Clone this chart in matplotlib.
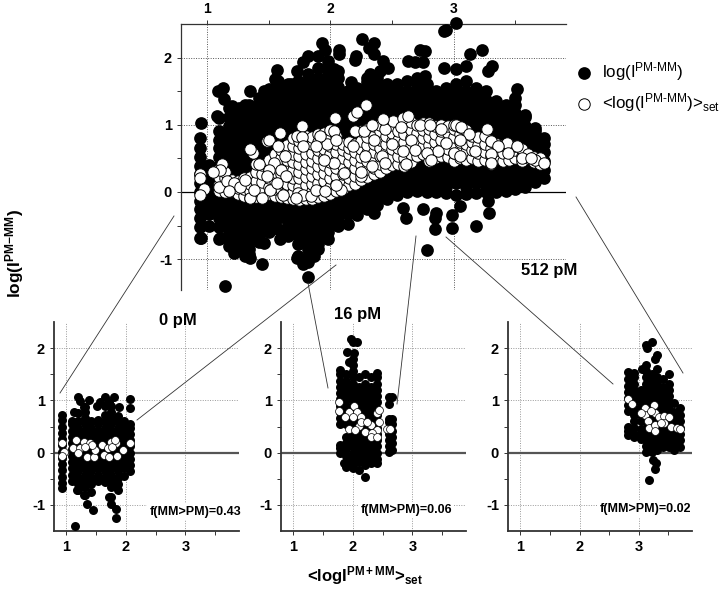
import matplotlib
matplotlib.use("Agg")
import matplotlib.pyplot as plt
from matplotlib.lines import Line2D

plt.rcParams['font.family'] = ['Liberation Sans', 'DejaVu Sans']
plt.rcParams['mathtext.fontset'] = 'custom'
plt.rcParams['mathtext.rm'] = 'Liberation Sans'
plt.rcParams['mathtext.bf'] = 'Liberation Sans:bold'
plt.rcParams['mathtext.it'] = 'Liberation Sans:italic'
plt.rcParams['mathtext.default'] = 'regular'

W, H = 720, 591

# ---- main panel: dense cloud
main_cols_x = [0.94, 1.02, 1.10, 1.18, 1.26, 1.34, 1.42, 1.50, 1.58, 1.66, 1.74, 1.82,
               1.90, 1.98, 2.06, 2.14, 2.22, 2.30, 2.38, 2.46, 2.54, 2.62, 2.70, 2.78,
               2.86, 2.94, 3.02, 3.10, 3.18, 3.26, 3.34, 3.42, 3.50, 3.58, 3.66, 3.73]
main_cols_y = [
 [-0.68,-0.52,-0.39,-0.26,-0.13,0,0.13,0.26,0.39,0.52,0.65,0.80],
 [-0.50,-0.33,-0.20,-0.07,0.07,0.20,0.33,0.40],
 [-0.70,-0.52,-0.39,-0.26,-0.13,0,0.13,0.26,0.39,0.52,0.65,0.78,0.91,1.10],
 [-0.80,-0.72,-0.59,-0.46,-0.33,-0.20,-0.07,0.07,0.20,0.33,0.46,0.59,0.72,0.85,0.98,1.11,1.25],
 [-0.85,-0.78,-0.65,-0.52,-0.39,-0.26,-0.13,0,0.13,0.26,0.39,0.52,0.65,0.78,0.91,1.04,1.17,1.25],
 [-0.92,-0.85,-0.72,-0.59,-0.46,-0.33,-0.20,-0.07,0.07,0.20,0.33,0.46,0.59,0.72,0.85,0.98,1.11,1.24,1.30],
 [-0.75,-0.65,-0.52,-0.39,-0.26,-0.13,0,0.13,0.26,0.39,0.52,0.65,0.78,0.91,1.04,1.17,1.30,1.40],
 [-0.60,-0.46,-0.33,-0.20,-0.07,0.07,0.20,0.33,0.46,0.59,0.72,0.85,0.98,1.11,1.24,1.37,1.50],
 [-0.55,-0.39,-0.26,-0.13,0,0.13,0.26,0.39,0.52,0.65,0.78,0.91,1.04,1.17,1.30,1.43,1.56,1.65],
 [-0.65,-0.59,-0.46,-0.33,-0.20,-0.07,0.07,0.20,0.33,0.46,0.59,0.72,0.85,0.98,1.11,1.24,1.37,1.50,1.60],
 [-0.95,-0.78,-0.65,-0.52,-0.39,-0.26,-0.13,0,0.13,0.26,0.39,0.52,0.65,0.78,0.91,1.04,1.17,1.30,1.43,1.56,1.65],
 [-1.05,-0.98,-0.85,-0.72,-0.59,-0.46,-0.33,-0.20,-0.07,0.07,0.20,0.33,0.46,0.59,0.72,0.85,0.98,1.11,1.24,1.37,1.50,1.63,1.75],
 [-0.85,-0.78,-0.65,-0.52,-0.39,-0.26,-0.13,0,0.13,0.26,0.39,0.52,0.65,0.78,0.91,1.04,1.17,1.30,1.43,1.56,1.69,1.85],
 [-0.70,-0.59,-0.46,-0.33,-0.20,-0.07,0.07,0.20,0.33,0.46,0.59,0.72,0.85,0.98,1.11,1.24,1.37,1.50,1.63,1.76,1.89,1.95],
 [-0.50,-0.39,-0.26,-0.13,0,0.13,0.26,0.39,0.52,0.65,0.78,0.91,1.04,1.17,1.30,1.43,1.56,1.69,1.80],
 [-0.48,-0.33,-0.20,-0.07,0.07,0.20,0.33,0.46,0.59,0.72,0.85,0.98,1.11,1.24,1.37,1.50],
 [-0.35,-0.26,-0.13,0,0.13,0.26,0.39,0.52,0.65,0.78,0.91,1.04,1.17,1.30,1.43,1.55],
 [-0.25,-0.20,-0.07,0.07,0.20,0.33,0.46,0.59,0.72,0.85,0.98,1.11,1.24,1.37,1.50,1.63,1.70],
 [-0.20,-0.13,0,0.13,0.26,0.39,0.52,0.65,0.78,0.91,1.04,1.17,1.30,1.43,1.56,1.70],
 [-0.10,-0.07,0.07,0.20,0.33,0.46,0.59,0.72,0.85,0.98,1.11,1.24,1.37,1.50,1.60],
 [-0.05,0,0.13,0.26,0.39,0.52,0.65,0.78,0.91,1.04,1.17,1.30,1.43,1.56,1.60],
 [0,0.07,0.20,0.33,0.46,0.59,0.72,0.85,0.98,1.11,1.24,1.37,1.50,1.65],
 [0.02,0.13,0.26,0.39,0.52,0.65,0.78,0.91,1.04,1.17,1.30,1.43,1.56,1.70],
 [0,0.07,0.20,0.33,0.46,0.59,0.72,0.85,0.98,1.11,1.24,1.37,1.50,1.60],
 [0,0.13,0.26,0.39,0.52,0.65,0.78,0.91,1.04,1.17,1.30,1.43,1.50],
 [-0.02,0.07,0.20,0.33,0.46,0.59,0.72,0.85,0.98,1.11,1.24,1.37,1.50,1.55],
 [-0.05,0.13,0.26,0.39,0.52,0.65,0.78,0.91,1.04,1.17,1.30,1.43,1.56,1.60],
 [-0.03,0.07,0.20,0.33,0.46,0.59,0.72,0.85,0.98,1.11,1.24,1.37,1.50,1.65],
 [-0.02,0.13,0.26,0.39,0.52,0.65,0.78,0.91,1.04,1.17,1.30,1.43,1.55],
 [0,0.07,0.20,0.33,0.46,0.59,0.72,0.85,0.98,1.11,1.24,1.37,1.50],
 [0,0.13,0.26,0.39,0.52,0.65,0.78,0.91,1.04,1.17,1.30,1.35],
 [0.02,0.07,0.20,0.33,0.46,0.59,0.72,0.85,0.98,1.11,1.24,1.30],
 [0.05,0.13,0.26,0.39,0.52,0.65,0.78,0.91,1.04,1.17,1.30,1.40],
 [0.08,0.20,0.33,0.46,0.59,0.72,0.85,0.98,1.11,1.15],
 [0.15,0.26,0.39,0.52,0.65,0.78,0.91,0.95],
 [0.20,0.33,0.46,0.59,0.72,0.80],
]
main_out_x = [0.95,1.09,1.13,1.14,1.20,1.08,1.35,1.31,1.46,1.50,1.57,1.55,1.68,1.73,1.78,1.82,
              1.90,1.93,1.96,2.07,2.07,2.03,2.20,2.21,2.17,2.26,2.31,2.35,2.35,2.43,2.47,2.40,2.32,
              2.63,2.69,2.73,2.77,2.75,2.77,2.92,2.94,3.02,2.92,3.02,3.13,3.10,3.23,3.31,3.28,3.51,
              0.95,1.11,1.22,1.31,1.35,1.46,1.45,1.59,1.73,1.78,1.87,1.82,1.15,
              2.35,2.59,2.61,2.75,2.86,2.85,2.85,2.99,2.99,3.05,3.18,3.28,3.29,2.78]
main_out_y = [1.02,1.50,1.55,1.38,1.28,1.13,1.50,1.30,1.50,1.53,1.82,1.68,1.60,1.80,1.93,2.03,
              2.03,2.22,2.12,2.12,2.05,1.83,1.97,2.03,1.63,2.28,2.15,2.22,2.05,1.95,1.85,1.80,1.75,
              1.95,1.93,2.12,2.10,1.93,1.73,2.40,2.41,2.51,1.85,1.83,2.05,1.88,2.12,1.88,1.80,1.53,
              -0.69,-0.69,-0.91,-0.96,-0.98,-0.76,-1.08,-0.70,-0.98,-1.08,-0.96,-1.27,-1.40,
              -0.31,-0.24,-0.39,-0.26,-0.31,-0.39,-0.55,-0.53,-0.35,-0.21,-0.51,-0.14,-0.31,-0.86]

# white band: body of the band, column by column
band_cols_x = [1.10,1.15,1.20,1.25,1.30,1.35,1.40,1.45,1.50,1.55,1.60,1.65,1.70,1.75,1.80,1.85,1.90,1.95,
               2.00,2.05,2.10,2.15,2.20,2.25,2.30,2.35,2.40,2.45,2.50,2.55,2.60,2.65,2.70,2.75,2.80,2.85,
               2.90,2.95,3.00,3.05,3.10,3.15,3.20,3.25,3.30,3.35,3.40,3.45,3.50,3.55,3.60,3.65,3.70]
band_cols_y = [
 [0.02,0.12,0.22,0.34],[0.00,0.09,0.20,0.30],[0.01,0.10,0.18],[-0.03,0.06,0.16],[-0.06,0.04,0.14,0.20],
 [-0.09,0.02,0.12,0.22],[-0.07,0.04,0.16,0.30,0.42],[-0.08,0.05,0.15,0.27,0.40],[-0.03,0.08,0.20,0.33,0.48],
 [-0.06,0.05,0.17,0.30,0.44,0.56],[-0.07,0.04,0.14,0.26,0.38,0.50,0.62],[-0.09,0.02,0.12,0.24,0.36,0.48,0.60,0.70],
 [-0.10,0.00,0.10,0.20,0.32,0.44,0.56,0.68,0.80],[-0.12,-0.02,0.08,0.20,0.30,0.42,0.54,0.66,0.76],
 [-0.11,0.00,0.10,0.22,0.34,0.44,0.56,0.70,0.84],[-0.10,0.01,0.12,0.24,0.36,0.46,0.58,0.72,0.82],
 [-0.08,0.03,0.14,0.26,0.38,0.50,0.62,0.74,0.86],[-0.06,0.04,0.16,0.28,0.40,0.52,0.64,0.76,0.88],
 [-0.03,0.08,0.20,0.32,0.44,0.56,0.68,0.80,0.92],[0.02,0.12,0.24,0.36,0.48,0.60,0.72,0.84],
 [0.04,0.14,0.26,0.38,0.50,0.62,0.72],[0.10,0.20,0.32,0.44,0.56,0.66,0.74],[0.12,0.24,0.36,0.48,0.60,0.72],
 [0.18,0.28,0.40,0.52,0.64,0.76,0.90],[0.22,0.34,0.46,0.58,0.70,0.82,0.94],[0.26,0.36,0.48,0.60,0.72,0.84,0.98],
 [0.30,0.42,0.54,0.66,0.78,0.90,1.00],[0.36,0.48,0.60,0.72,0.84,0.96,1.04],[0.40,0.52,0.64,0.76,0.88,1.00],
 [0.42,0.54,0.66,0.78,0.90,1.04],[0.38,0.50,0.62,0.74,0.86,0.98,1.08],[0.44,0.56,0.68,0.80,0.92,1.04],
 [0.54,0.64,0.76,0.88,1.00],[0.56,0.68,0.80,0.92,1.02],[0.46,0.58,0.70,0.82,0.94,1.02],
 [0.50,0.62,0.74,0.86,0.98],[0.54,0.66,0.78,0.90,1.00],[0.52,0.64,0.76,0.88,0.98],[0.46,0.58,0.70,0.82,0.94,1.00],
 [0.50,0.62,0.74,0.86,0.96],[0.48,0.60,0.72,0.84,0.92],[0.50,0.62,0.74,0.84],[0.46,0.58,0.70,0.82],
 [0.48,0.60,0.72,0.84],[0.42,0.54,0.66,0.76],[0.50,0.62,0.72],[0.46,0.58,0.70],[0.48,0.60,0.72],
 [0.50,0.62,0.68],[0.46,0.54,0.64],[0.50,0.56],[0.44,0.52],[0.42,0.50],
]
main_set_x = [0.94,0.94,0.98,0.94,1.12,1.11,1.05,1.10,1.16,1.22,1.18,1.27,1.35,1.31,1.38,1.45,1.42,1.37,1.35,
              1.49,1.50,1.59,1.77,1.73,1.77,1.78,1.58,1.63,1.54,1.50,1.49,1.60,1.64,1.62,1.51,1.57,1.74,1.78,
              1.72,1.84,1.88,1.96,2.09,2.05,2.11,2.03,1.95,1.97,2.04,2.03,2.05,1.92,1.88,2.18,2.22,2.29,2.20,
              2.27,2.34,2.25,2.44,2.51,2.59,2.63,2.57,2.43,2.35,2.18,2.28,2.42,2.34,2.25,2.44,2.59,2.61,2.50,
              2.65,2.73,2.81,2.90,3.02,3.06,3.12,3.27,3.30,3.43,3.51,3.36,3.17,3.30,3.44,3.55,3.66,3.63,3.73,
              3.30,3.00,2.87,2.78,2.82,3.05,2.69,3.05,2.94]
main_set_y = [0.26,0.21,0.04,-0.05,0.42,0.33,0.29,0.08,0.16,0.13,0.02,0.08,-0.09,0.18,0.03,-0.09,0.41,0.58,0.64,
              0.76,0.78,0.88,0.98,0.84,0.82,0.68,0.68,0.53,0.43,0.33,0.23,0.33,0.23,-0.04,0.03,0.13,-0.01,-0.04,
              -0.09,-0.06,0.03,0.01,0.03,0.11,0.28,0.43,0.48,0.71,1.10,0.91,0.78,0.83,0.68,1.13,1.19,1.30,0.91,
              0.91,1.00,0.23,0.93,1.05,1.10,1.13,0.96,1.08,0.78,0.68,0.53,0.53,0.38,0.30,0.43,0.61,0.41,0.71,
              0.78,1.00,1.00,0.93,1.00,0.96,0.86,0.93,0.76,0.73,0.68,0.68,0.61,0.56,0.58,0.50,0.48,0.50,0.43,
              0.43,0.58,0.61,0.58,0.48,0.53,0.63,0.78,0.73]

# ---- 0 pM panel
p0_cols_x = [0.93, 1.09, 1.20, 1.31, 1.42, 1.53, 1.64, 1.75, 1.86, 1.97, 2.07]
p0_cols_y = [
 [-0.68,-0.58,-0.46,-0.34,-0.22,-0.10,0.02,0.14,0.26,0.38,0.50,0.62,0.72],
 [-0.55,-0.42,-0.30,-0.18,-0.06,0.06,0.18,0.30,0.42,0.54,0.60],
 [-0.71,-0.60,-0.48,-0.36,-0.24,-0.12,0,0.12,0.24,0.36,0.48,0.60,0.75],
 [-0.81,-0.66,-0.54,-0.42,-0.30,-0.18,-0.06,0.06,0.18,0.30,0.42,0.54,0.66,0.78,0.88],
 [-0.76,-0.60,-0.48,-0.36,-0.24,-0.12,0,0.12,0.24,0.36,0.48,0.60],
 [-0.55,-0.42,-0.30,-0.18,-0.06,0.06,0.18,0.30,0.42,0.54,0.62],
 [-0.56,-0.48,-0.36,-0.24,-0.12,0,0.12,0.24,0.36,0.48,0.60,0.72,0.90],
 [-0.84,-0.66,-0.54,-0.42,-0.30,-0.18,-0.06,0.06,0.18,0.30,0.42,0.54,0.66,0.78,0.90],
 [-0.71,-0.60,-0.48,-0.36,-0.24,-0.12,0,0.12,0.24,0.36,0.48,0.60,0.70],
 [-0.45,-0.30,-0.18,-0.06,0.06,0.18,0.30,0.42,0.54,0.60],
 [-0.35,-0.24,-0.12,0,0.12,0.24,0.36,0.48,0.55],
]
p0_out_x = [1.19,1.23,1.37,1.29,1.51,1.57,1.65,1.80,1.71,2.06,2.07,1.12,1.89,1.15,1.35,1.45,1.83,1.83,1.75,1.71,1.29,1.17]
p0_out_y = [1.07,0.98,1.00,0.88,0.89,0.97,1.06,1.07,0.97,1.02,0.85,0.78,0.87,-1.41,-0.99,-1.10,-1.25,-1.08,-0.98,-0.84,-0.81,-0.71]
p0_set_x = [0.93,0.95,0.93,1.11,1.16,1.23,1.29,1.35,1.46,1.40,1.48,1.43,1.60,1.63,1.71,1.70,1.74,1.84,1.85,1.95,2.07,1.20,1.31,1.76,1.82]
p0_set_y = [0.18,0.02,-0.06,0.08,0.24,0.08,0.21,-0.08,-0.09,0.18,0.05,0.15,0.15,-0.04,-0.08,0.08,0.21,0.19,-0.06,0.05,0.19,-0.01,0.11,0.11,0.24]

# ---- 16 pM panel
p16_cols_x = [1.78, 1.89, 2.00, 2.10, 2.20, 2.30, 2.41, 2.60, 2.65]
p16_cols_y = [
 [-0.01,0.08,0.15,0.55,0.66,0.78,0.90,1.02,1.14,1.26,1.38,1.50,1.58],
 [-0.27,-0.18,-0.06,0.06,0.18,0.30,0.54,0.66,0.78,0.90,1.02,1.14,1.26,1.38,1.50],
 [-0.30,-0.24,-0.12,0,0.12,0.24,0.36,0.48,0.60,0.72,0.84,0.96,1.08,1.20,1.32,1.44,1.56,1.68,1.80],
 [-0.33,-0.18,-0.06,0.06,0.18,0.30,0.42,0.54,0.66,0.78,0.90,1.02,1.14,1.26,1.45],
 [-0.46,-0.24,-0.12,0,0.12,0.24,0.36,0.48,0.60,0.72,0.84,0.96,1.08,1.20,1.32,1.50],
 [-0.20,-0.18,-0.06,0.06,0.18,0.30,0.42,0.54,0.66,0.78,0.90,1.02,1.14,1.26,1.45],
 [-0.19,-0.12,0,0.12,0.24,0.36,0.48,0.60,0.72,0.84,0.96,1.08,1.20,1.32,1.44,1.52],
 [0.02,0.12,0.24,0.36,0.48,0.58,0.65,0.94,1.07],
 [0.05,0.18,0.30,0.42,0.54,0.65,1.07],
]
p16_out_x = [1.96,2.06,1.90,1.94,2.02,1.85,2.00]
p16_out_y = [2.17,2.12,1.93,1.74,1.90,-0.20,2.12]
p16_set_x = [1.77,1.77,1.93,2.02,2.06,2.00,2.13,2.10,1.94,2.21,2.30,2.41,2.44,2.40,2.44,2.32,2.58,2.63,2.03,2.13,2.24,2.30,2.41,1.86]
p16_set_y = [0.96,0.80,0.78,0.89,0.78,0.69,0.69,0.51,0.46,0.40,0.53,0.75,0.82,0.43,0.59,0.37,0.46,0.46,0.43,0.59,0.59,0.30,0.30,0.69]

# ---- 512 pM panel
p512_cols_x = [2.81, 2.92, 3.03, 3.12, 3.22, 3.31, 3.41, 3.51, 3.60, 3.70]
p512_cols_y = [
 [0.34,0.42,0.50,0.80,0.92,1.04,1.16,1.28,1.40,1.55],
 [0.30,0.36,0.48,0.60,0.72,0.84,0.96,1.08,1.20,1.32,1.44,1.52],
 [0.27,0.36,0.45,0.60,0.72,0.90,1.02,1.14,1.20],
 [0.02,0.12,0.24,0.36,0.48,0.60,0.72,0.84,0.96,1.08,1.20,1.32,1.44,1.56,1.68],
 [0.02,0.06,0.18,0.30,0.42,0.54,0.66,0.78,0.90,1.02,1.14,1.26,1.38,1.50],
 [0.05,0.12,0.24,0.36,0.48,0.60,0.72,0.84,0.96,1.08,1.20,1.32,1.44,1.60],
 [0.10,0.18,0.30,0.42,0.54,0.66,0.78,0.90,1.02,1.14,1.26,1.40],
 [0.10,0.12,0.24,0.36,0.48,0.60,0.72,0.84,0.96,1.08,1.20,1.32,1.50],
 [0.05,0.18,0.30,0.42,0.54,0.66,0.78,0.95],
 [0.10,0.24,0.36,0.48,0.60,0.72,0.85],
]
p512_out_x = [3.13,3.22,3.14,3.31,3.28,3.05,3.17,3.27,3.29,3.24]
p512_out_y = [2.06,2.11,2.01,1.87,1.80,1.61,-0.52,-0.32,-0.20,-0.14]
p512_set_x = [2.81,2.89,3.11,3.26,3.11,3.03,3.27,3.21,3.16,3.35,3.42,3.51,3.17,3.28,3.28,3.42,3.55,3.64,3.69,3.38]
p512_set_y = [1.02,0.93,0.85,0.91,0.72,0.76,0.75,0.80,0.61,0.68,0.71,0.68,0.48,0.53,0.42,0.57,0.50,0.48,0.45,0.56]

x_major = [1, 2, 3]
x_minor = [1.5, 2.5, 3.5]
y_major = [2, 1, 0, -1]
y_minor = [1.5, 0.5, -0.5]
y_labels = ['2', '1', '0', '-1']

panel_labels = ['0 pM', '16 pM', '512 pM']
fractions = ['f(MM>PM)=0.43', 'f(MM>PM)=0.06', 'f(MM>PM)=0.02']

# connector lines, figure pixels
links = [((60, 393), (174, 216)), ((137, 420), (336, 265)), ((328, 388), (308, 283)),
         ((397, 404), (416, 236)), ((613, 384), (446, 237)), ((683, 373), (576, 197))]


def flatten(cols_x, cols_y):
    xs, ys = [], []
    for cx, col in zip(cols_x, cols_y):
        xs.extend([cx] * len(col))
        ys.extend(col)
    return xs, ys


def axes_px(fig, left, top, right, bottom):
    return fig.add_axes([left / W, 1 - bottom / H, (right - left) / W, (bottom - top) / H])


def style(ax, spine_w, zero_color, zero_w, grid_color):
    ax.set_xticks(x_major)
    ax.set_xticks(x_minor, minor=True)
    ax.set_yticks(y_major, labels=y_labels)
    ax.set_yticks(y_minor, minor=True)
    ax.set_axisbelow(True)
    ax.grid(True, which='major', linestyle=(0, (1, 1.5)), color=grid_color, linewidth=0.7)
    ax.axhline(0, color=zero_color, linewidth=zero_w, zorder=1)
    ax.patch.set_alpha(0)
    ax.spines['right'].set_visible(False)
    for s in ax.spines.values():
        s.set_linewidth(spine_w)
        s.set_color('#333333')
    for lab in ax.get_xticklabels() + ax.get_yticklabels():
        lab.set_fontweight('bold')
        lab.set_fontsize(10.5)
    ax.tick_params(which='both', length=3, width=0.7, color='#333333', pad=3.5)


fig = plt.figure(figsize=(W / 100, H / 100), dpi=100)

# main panel
ax = axes_px(fig, 181, 24, 566, 290)
ax.set_xlim(0.79, 3.91)
ax.set_ylim(-1.46, 2.5)
style(ax, 0.9, 'black', 0.9, '#555555')
ax.spines['bottom'].set_visible(False)
ax.xaxis.tick_top()
ax.tick_params(axis='x', which='both', top=True, bottom=False, labeltop=True, labelbottom=False, pad=2.5)
for lab in ax.get_xticklabels():
    lab.set_fontweight('bold')
mx, my = flatten(main_cols_x, main_cols_y)
bx, by = flatten(band_cols_x, band_cols_y)
h1 = ax.scatter(mx + main_out_x, my + main_out_y, s=84, c='black', linewidths=0, zorder=3, clip_on=False,
                label='log(I$^{\\text{PM-MM}}$)')
h2 = ax.scatter(bx + main_set_x, by + main_set_y, s=68, c='white', edgecolors='black', linewidths=0.7, zorder=4,
                label='<log(I$^{\\text{PM-MM}}$)>$_{\\text{set}}$')
leg = ax.legend(handles=[h1, h2], loc='upper left', bbox_to_anchor=(575.5 / W, 1 - 60 / H),
                bbox_transform=fig.transFigure, frameon=False, prop={'size': 12.2},
                borderpad=0, handlelength=1.0, handletextpad=0.56, labelspacing=0.47, borderaxespad=0,
                scatterpoints=1)

# lower panels
panels = [
    (54, 239, p0_cols_x, p0_cols_y, p0_out_x, p0_out_y, p0_set_x, p0_set_y),
    (281, 466, p16_cols_x, p16_cols_y, p16_out_x, p16_out_y, p16_set_x, p16_set_y),
    (508, 692, p512_cols_x, p512_cols_y, p512_out_x, p512_out_y, p512_set_x, p512_set_y),
]
for left, right, cx, cy, ox, oy, sx, sy in panels:
    a = axes_px(fig, left, 322, right, 531)
    a.set_xlim(0.79, 3.9)
    a.set_ylim(-1.5, 2.5)
    style(a, 1.3, '#555555', 1.6, '#999999')
    a.spines['top'].set_visible(False)
    xs, ys = flatten(cx, cy)
    a.scatter(xs + ox, ys + oy, s=42, c='black', linewidths=0, zorder=3)
    a.scatter(sx, sy, s=32, c='white', edgecolors='black', linewidths=0.5, zorder=4)


def ftext(px, py, s, **kw):
    return fig.text(px / W, 1 - py / H, s, **kw)


white_box = dict(facecolor='white', edgecolor='none', pad=1.5)
ftext(178, 321, panel_labels[0], ha='center', va='center', fontsize=12, fontweight='bold')
ftext(358, 314, panel_labels[1], ha='center', va='center', fontsize=12, fontweight='bold')
ftext(549, 270, panel_labels[2], ha='center', va='center', fontsize=12, fontweight='bold', bbox=white_box)
ftext(195.5, 511.5, fractions[0], ha='center', va='center', fontsize=9, fontweight='bold', bbox=white_box)
ftext(406.5, 510, fractions[1], ha='center', va='center', fontsize=9, fontweight='bold', bbox=white_box)
ftext(645.5, 509, fractions[2], ha='center', va='center', fontsize=9, fontweight='bold', bbox=white_box)

ftext(15, 253, 'log(I$^{\\mathbf{PM{-}MM}}$)', rotation=90, ha='center', va='center', fontsize=12.4, fontweight='bold')
ftext(365, 576, '<logI$^{\\mathbf{PM+MM}}$>$_{\\mathbf{set}}$', ha='center', va='center', fontsize=12, fontweight='bold')

for (x0, y0), (x1, y1) in links:
    fig.add_artist(Line2D([x0 / W, x1 / W], [1 - y0 / H, 1 - y1 / H], color='#333333', linewidth=0.6))

fig.savefig('out.png', dpi=100, facecolor='white')
